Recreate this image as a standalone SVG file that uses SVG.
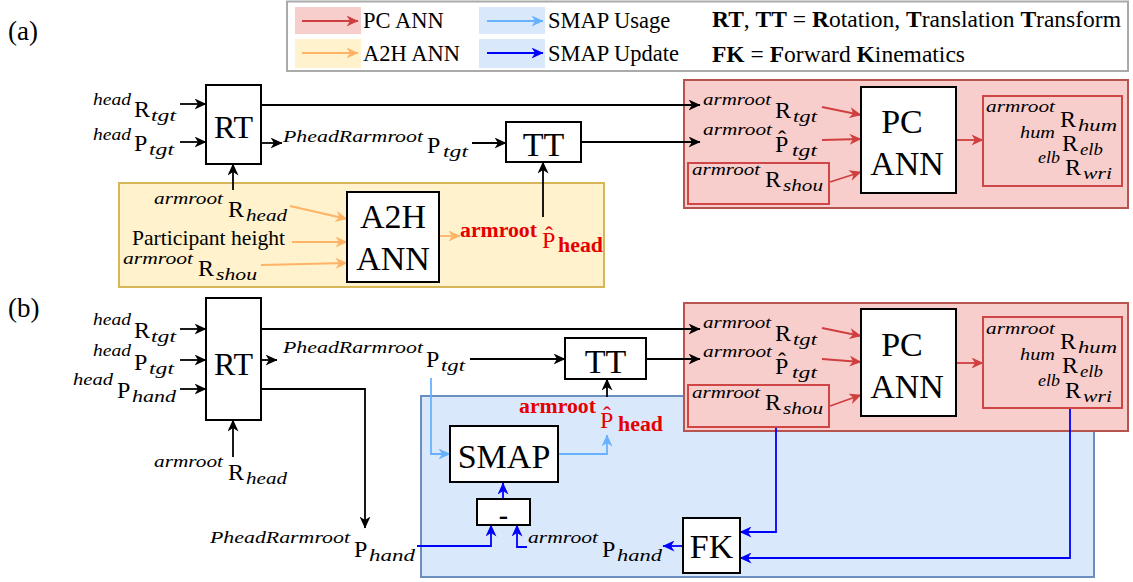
<svg xmlns="http://www.w3.org/2000/svg" width="1133" height="582" viewBox="0 0 1133 582">
<style>
text { font-family: "Liberation Serif", "Times New Roman", serif; fill: #000; }
.m { font-size: 24px; }
.s { font-size: 17px; font-style: italic; }
.lg { font-size: 22.5px; }
.big { font-size: 34px; text-anchor: middle; }
.rt { font-size: 32px; text-anchor: middle; }
.red { fill: #e50000; }
.rb { font-size: 20px; font-weight: bold; fill: #e50000; }
.box { fill: #fff; stroke: #000; stroke-width: 2; }
.ibox { fill: none; stroke: #d04545; stroke-width: 2; }
.reg-r { fill: #f8cecc; stroke: #b85450; stroke-width: 2; }
.reg-y { fill: #fff2cc; stroke: #d6b656; stroke-width: 2; }
.reg-b { fill: #dae8fc; stroke: #6c8ebf; stroke-width: 2; }
.c { fill: none; stroke-width: 1.8; }
.k { stroke: #000; marker-end: url(#ak); }
.r { stroke: #cf3f3f; marker-end: url(#ar); }
.o { stroke: #ffb366; marker-end: url(#ao); }
.lb { stroke: #66b2ff; marker-end: url(#alb); }
.b { stroke: #0000ff; marker-end: url(#ab); }
</style>
<defs>
<marker id="ak" markerUnits="userSpaceOnUse" markerWidth="13" markerHeight="11" refX="11.5" refY="5.5" orient="auto"><path d="M0,0 L12,5.5 L0,11 L3.5,5.5 z" fill="#000"/></marker>
<marker id="ar" markerUnits="userSpaceOnUse" markerWidth="13" markerHeight="11" refX="11.5" refY="5.5" orient="auto"><path d="M0,0 L12,5.5 L0,11 L3.5,5.5 z" fill="#cf3f3f"/></marker>
<marker id="ao" markerUnits="userSpaceOnUse" markerWidth="13" markerHeight="11" refX="11.5" refY="5.5" orient="auto"><path d="M0,0 L12,5.5 L0,11 L3.5,5.5 z" fill="#ffb366"/></marker>
<marker id="alb" markerUnits="userSpaceOnUse" markerWidth="13" markerHeight="11" refX="11.5" refY="5.5" orient="auto"><path d="M0,0 L12,5.5 L0,11 L3.5,5.5 z" fill="#66b2ff"/></marker>
<marker id="ab" markerUnits="userSpaceOnUse" markerWidth="13" markerHeight="11" refX="11.5" refY="5.5" orient="auto"><path d="M0,0 L12,5.5 L0,11 L3.5,5.5 z" fill="#0000ff"/></marker>
</defs>

<g id="legend">
<rect x="287" y="1.5" width="841" height="69.5" fill="#fff" stroke="#aaa" stroke-width="2"/>
<rect x="295" y="7" width="66" height="27" fill="#f8cecc"/>
<rect x="295" y="39" width="66" height="29" fill="#fff2cc"/>
<rect x="479" y="7" width="66" height="27" fill="#dae8fc"/>
<rect x="479" y="39" width="66" height="29" fill="#dae8fc"/>
<path class="c r" d="M302,21H358"/>
<path class="c o" d="M302,53H358"/>
<path class="c lb" d="M487,21H543"/>
<path class="c b" d="M487,53H543"/>
<text class="lg" x="363" y="28">PC ANN</text>
<text class="lg" x="363" y="61">A2H ANN</text>
<text class="lg" x="548" y="28">SMAP Usage</text>
<text class="lg" x="548" y="61">SMAP Update</text>
<text class="lg" x="712" y="27" textLength="409" lengthAdjust="spacingAndGlyphs"><tspan font-weight="bold">RT</tspan>, <tspan font-weight="bold">TT</tspan> = <tspan font-weight="bold">R</tspan>otation, <tspan font-weight="bold">T</tspan>ranslation <tspan font-weight="bold">T</tspan>ransform</text>
<text class="lg" x="712" y="62" textLength="253" lengthAdjust="spacingAndGlyphs"><tspan font-weight="bold">FK</tspan> = <tspan font-weight="bold">F</tspan>orward <tspan font-weight="bold">K</tspan>inematics</text>
</g>

<text x="8" y="40" font-size="27">(a)</text>
<text x="8" y="317" font-size="27">(b)</text>

<g id="region-a2h"><rect class="reg-y" x="119" y="183" width="485" height="104"/></g>
<g id="region-smap"><rect class="reg-b" x="421" y="396" width="673" height="181"/></g>
<g id="region-pc-a"><rect class="reg-r" x="684" y="80" width="444" height="128"/></g>
<g id="region-pc-b"><rect class="reg-r" x="684" y="303" width="444" height="128"/></g>

<g id="connectors">
<path class="c k" d="M180,104H206"/>
<path class="c k" d="M180,142H206"/>
<path class="c k" d="M233,190V164"/>
<path class="c k" d="M261,105H700"/>
<path class="c k" d="M261,143H282"/>
<path class="c k" d="M472,143H506"/>
<path class="c k" d="M581,142H700"/>
<path class="c k" d="M543,217V162"/>
<path class="c o" d="M290,206L347,219"/>
<path class="c o" d="M292,242H347"/>
<path class="c o" d="M261,265L347,263"/>
<path class="c o" d="M439,236H460"/>
<path class="c r" d="M822,107L861,115"/>
<path class="c r" d="M822,140L861,139"/>
<path class="c r" d="M830,182L861,172"/>
<path class="c r" d="M956,140H983"/>
<path class="c k" d="M180,329H206"/>
<path class="c k" d="M180,360H206"/>
<path class="c k" d="M180,389H206"/>
<path class="c k" d="M233,457V420"/>
<path class="c k" d="M261,329H700"/>
<path class="c k" d="M261,360H277"/>
<path class="c k" d="M470,359H565"/>
<path class="c k" d="M646,359H700"/>
<path class="c k" d="M261,389H365V528"/>
<path class="c k" d="M607,397V379"/>
<path class="c lb" d="M431,378V454H450"/>
<path class="c lb" d="M558,454H607V435"/>
<path class="c b" d="M417,546H491V525"/>
<path class="c b" d="M527,547H517V525"/>
<path class="c b" d="M503,499V483"/>
<path class="c b" d="M683,546H663"/>
<path class="c b" d="M776,427V532H740"/>
<path class="c b" d="M1070,408V558H740"/>
<path class="c r" d="M822,328L861,336"/>
<path class="c r" d="M822,359L861,362"/>
<path class="c r" d="M830,406L861,395"/>
<path class="c r" d="M956,363H983"/>
</g>

<g id="a-in-headRtgt"><text class="s" x="93" y="105" textLength="38" lengthAdjust="spacingAndGlyphs">head</text><text class="m" x="134" y="117">R</text><text class="s" x="151" y="121" textLength="25" lengthAdjust="spacingAndGlyphs">tgt</text></g>
<g id="a-in-headPtgt"><text class="s" x="93" y="140" textLength="38" lengthAdjust="spacingAndGlyphs">head</text><text class="m" x="134" y="151">P</text><text class="s" x="149" y="155" textLength="25" lengthAdjust="spacingAndGlyphs">tgt</text></g>
<g id="a-RT"><rect class="box" x="206" y="85" width="55" height="79"/><text class="rt" x="233.5" y="138">RT</text></g>
<g id="a-Rhead"><text class="s" x="154" y="204" textLength="69" lengthAdjust="spacingAndGlyphs">armroot</text><text class="m" x="228" y="217">R</text><text class="s" x="246" y="221" textLength="41" lengthAdjust="spacingAndGlyphs">head</text></g>
<g id="a-height"><text x="132" y="244.5" font-size="21.5" textLength="153" lengthAdjust="spacingAndGlyphs">Participant height</text></g>
<g id="a-Rshou-in"><text class="s" x="123" y="264" textLength="70" lengthAdjust="spacingAndGlyphs">armroot</text><text class="m" x="198" y="276">R</text><text class="s" x="216" y="280" textLength="41" lengthAdjust="spacingAndGlyphs">shou</text></g>
<g id="a-A2H"><rect class="box" x="347" y="192" width="92" height="90"/><text class="big" x="393" y="228">A2H</text><text class="big" x="393" y="270">ANN</text></g>
<g id="a-Phead"><text class="rb" x="460" y="237" textLength="77" lengthAdjust="spacingAndGlyphs">armroot</text><text class="m red" x="542" y="248">P&#x302;</text><text class="rb" x="558" y="252" textLength="45" lengthAdjust="spacingAndGlyphs">head</text></g>
<g id="a-PtgtRel"><text class="s" x="283" y="142" textLength="140" lengthAdjust="spacingAndGlyphs">PheadRarmroot</text><text class="m" x="427" y="153">P</text><text class="s" x="443" y="157" textLength="25" lengthAdjust="spacingAndGlyphs">tgt</text></g>
<g id="a-TT"><rect class="box" x="506" y="122" width="75" height="40"/><text class="big" x="543.5" y="156">TT</text></g>
<g id="a-pc-Rtgt"><text class="s" x="703" y="105" textLength="68" lengthAdjust="spacingAndGlyphs">armroot</text><text class="m" x="775" y="118">R</text><text class="s" x="793" y="122" textLength="24" lengthAdjust="spacingAndGlyphs">tgt</text></g>
<g id="a-pc-Ptgt"><text class="s" x="703" y="135" textLength="69" lengthAdjust="spacingAndGlyphs">armroot</text><text class="m" x="775" y="152">P&#x302;</text><text class="s" x="792" y="156" textLength="25" lengthAdjust="spacingAndGlyphs">tgt</text></g>
<g id="a-pc-Rshou"><rect class="ibox" x="688" y="163" width="141" height="41"/><text class="s" x="692" y="175" textLength="68" lengthAdjust="spacingAndGlyphs">armroot</text><text class="m" x="765" y="187">R</text><text class="s" x="783" y="191" textLength="40" lengthAdjust="spacingAndGlyphs">shou</text></g>
<g id="a-PCANN"><rect class="box" x="861" y="87" width="95" height="106"/><text class="big" x="902" y="133">PC</text><text class="big" x="907" y="175">ANN</text></g>
<g id="a-pc-out"><rect class="ibox" x="983" y="96" width="139" height="90"/>
<text class="s" x="986" y="112" textLength="69" lengthAdjust="spacingAndGlyphs">armroot</text><text class="m" x="1060" y="127">R</text><text class="s" x="1078" y="131" textLength="39" lengthAdjust="spacingAndGlyphs">hum</text>
<text class="s" x="1020" y="138" textLength="35" lengthAdjust="spacingAndGlyphs">hum</text><text class="m" x="1062" y="151">R</text><text class="s" x="1080" y="155" textLength="23" lengthAdjust="spacingAndGlyphs">elb</text>
<text class="s" x="1038" y="163" textLength="22" lengthAdjust="spacingAndGlyphs">elb</text><text class="m" x="1065" y="175">R</text><text class="s" x="1083" y="179" textLength="29" lengthAdjust="spacingAndGlyphs">wri</text></g>

<g id="b-in-headRtgt"><text class="s" x="93" y="325" textLength="38" lengthAdjust="spacingAndGlyphs">head</text><text class="m" x="134" y="338">R</text><text class="s" x="151" y="342" textLength="25" lengthAdjust="spacingAndGlyphs">tgt</text></g>
<g id="b-in-headPtgt"><text class="s" x="93" y="356" textLength="38" lengthAdjust="spacingAndGlyphs">head</text><text class="m" x="134" y="370">P</text><text class="s" x="149" y="374" textLength="25" lengthAdjust="spacingAndGlyphs">tgt</text></g>
<g id="b-in-headPhand"><text class="s" x="73" y="385" textLength="40" lengthAdjust="spacingAndGlyphs">head</text><text class="m" x="117" y="398">P</text><text class="s" x="132" y="402" textLength="44" lengthAdjust="spacingAndGlyphs">hand</text></g>
<g id="b-RT"><rect class="box" x="206" y="298" width="55" height="122"/><text class="rt" x="233.5" y="375">RT</text></g>
<g id="b-Rhead"><text class="s" x="154" y="467" textLength="69" lengthAdjust="spacingAndGlyphs">armroot</text><text class="m" x="228" y="480">R</text><text class="s" x="246" y="484" textLength="41" lengthAdjust="spacingAndGlyphs">head</text></g>
<g id="b-PtgtRel"><text class="s" x="283" y="353" textLength="140" lengthAdjust="spacingAndGlyphs">PheadRarmroot</text><text class="m" x="426" y="367">P</text><text class="s" x="441" y="371" textLength="24" lengthAdjust="spacingAndGlyphs">tgt</text></g>
<g id="b-TT"><rect class="box" x="565" y="338" width="81" height="41"/><text class="big" x="605.5" y="373">TT</text></g>
<g id="b-Phead"><text class="rb" x="519" y="413" textLength="77" lengthAdjust="spacingAndGlyphs">armroot</text><text class="m red" x="600" y="428">P&#x302;</text><text class="rb" x="618" y="431" textLength="45" lengthAdjust="spacingAndGlyphs">head</text></g>
<g id="b-SMAP"><rect class="box" x="450" y="426" width="108" height="56"/><text class="big" x="504" y="468">SMAP</text></g>
<g id="b-minus"><rect class="box" x="477" y="499" width="53" height="26"/><text x="503.5" y="524" font-size="28" font-weight="bold" text-anchor="middle">-</text></g>
<g id="b-PhandRel"><text class="s" x="210" y="543" textLength="140" lengthAdjust="spacingAndGlyphs">PheadRarmroot</text><text class="m" x="354" y="557">P</text><text class="s" x="369" y="561" textLength="46" lengthAdjust="spacingAndGlyphs">hand</text></g>
<g id="b-Phand"><text class="s" x="528" y="543" textLength="70" lengthAdjust="spacingAndGlyphs">armroot</text><text class="m" x="602" y="557">P</text><text class="s" x="617" y="561" textLength="45" lengthAdjust="spacingAndGlyphs">hand</text></g>
<g id="b-FK"><rect class="box" x="683" y="518" width="57" height="55"/><text class="big" x="711.5" y="558">FK</text></g>
<g id="b-pc-Rtgt"><text class="s" x="703" y="328" textLength="68" lengthAdjust="spacingAndGlyphs">armroot</text><text class="m" x="775" y="341">R</text><text class="s" x="793" y="345" textLength="24" lengthAdjust="spacingAndGlyphs">tgt</text></g>
<g id="b-pc-Ptgt"><text class="s" x="703" y="357" textLength="69" lengthAdjust="spacingAndGlyphs">armroot</text><text class="m" x="775" y="374">P&#x302;</text><text class="s" x="792" y="378" textLength="25" lengthAdjust="spacingAndGlyphs">tgt</text></g>
<g id="b-pc-Rshou"><rect class="ibox" x="688" y="385" width="141" height="42"/><text class="s" x="692" y="398" textLength="68" lengthAdjust="spacingAndGlyphs">armroot</text><text class="m" x="765" y="410">R</text><text class="s" x="783" y="414" textLength="40" lengthAdjust="spacingAndGlyphs">shou</text></g>
<g id="b-PCANN"><rect class="box" x="861" y="309" width="95" height="107"/><text class="big" x="902" y="356">PC</text><text class="big" x="907" y="398">ANN</text></g>
<g id="b-pc-out"><rect class="ibox" x="983" y="317" width="139" height="91"/>
<text class="s" x="986" y="334" textLength="69" lengthAdjust="spacingAndGlyphs">armroot</text><text class="m" x="1060" y="349">R</text><text class="s" x="1078" y="353" textLength="39" lengthAdjust="spacingAndGlyphs">hum</text>
<text class="s" x="1020" y="360" textLength="35" lengthAdjust="spacingAndGlyphs">hum</text><text class="m" x="1062" y="373">R</text><text class="s" x="1080" y="377" textLength="23" lengthAdjust="spacingAndGlyphs">elb</text>
<text class="s" x="1038" y="386" textLength="22" lengthAdjust="spacingAndGlyphs">elb</text><text class="m" x="1065" y="398">R</text><text class="s" x="1083" y="402" textLength="29" lengthAdjust="spacingAndGlyphs">wri</text></g>
</svg>
